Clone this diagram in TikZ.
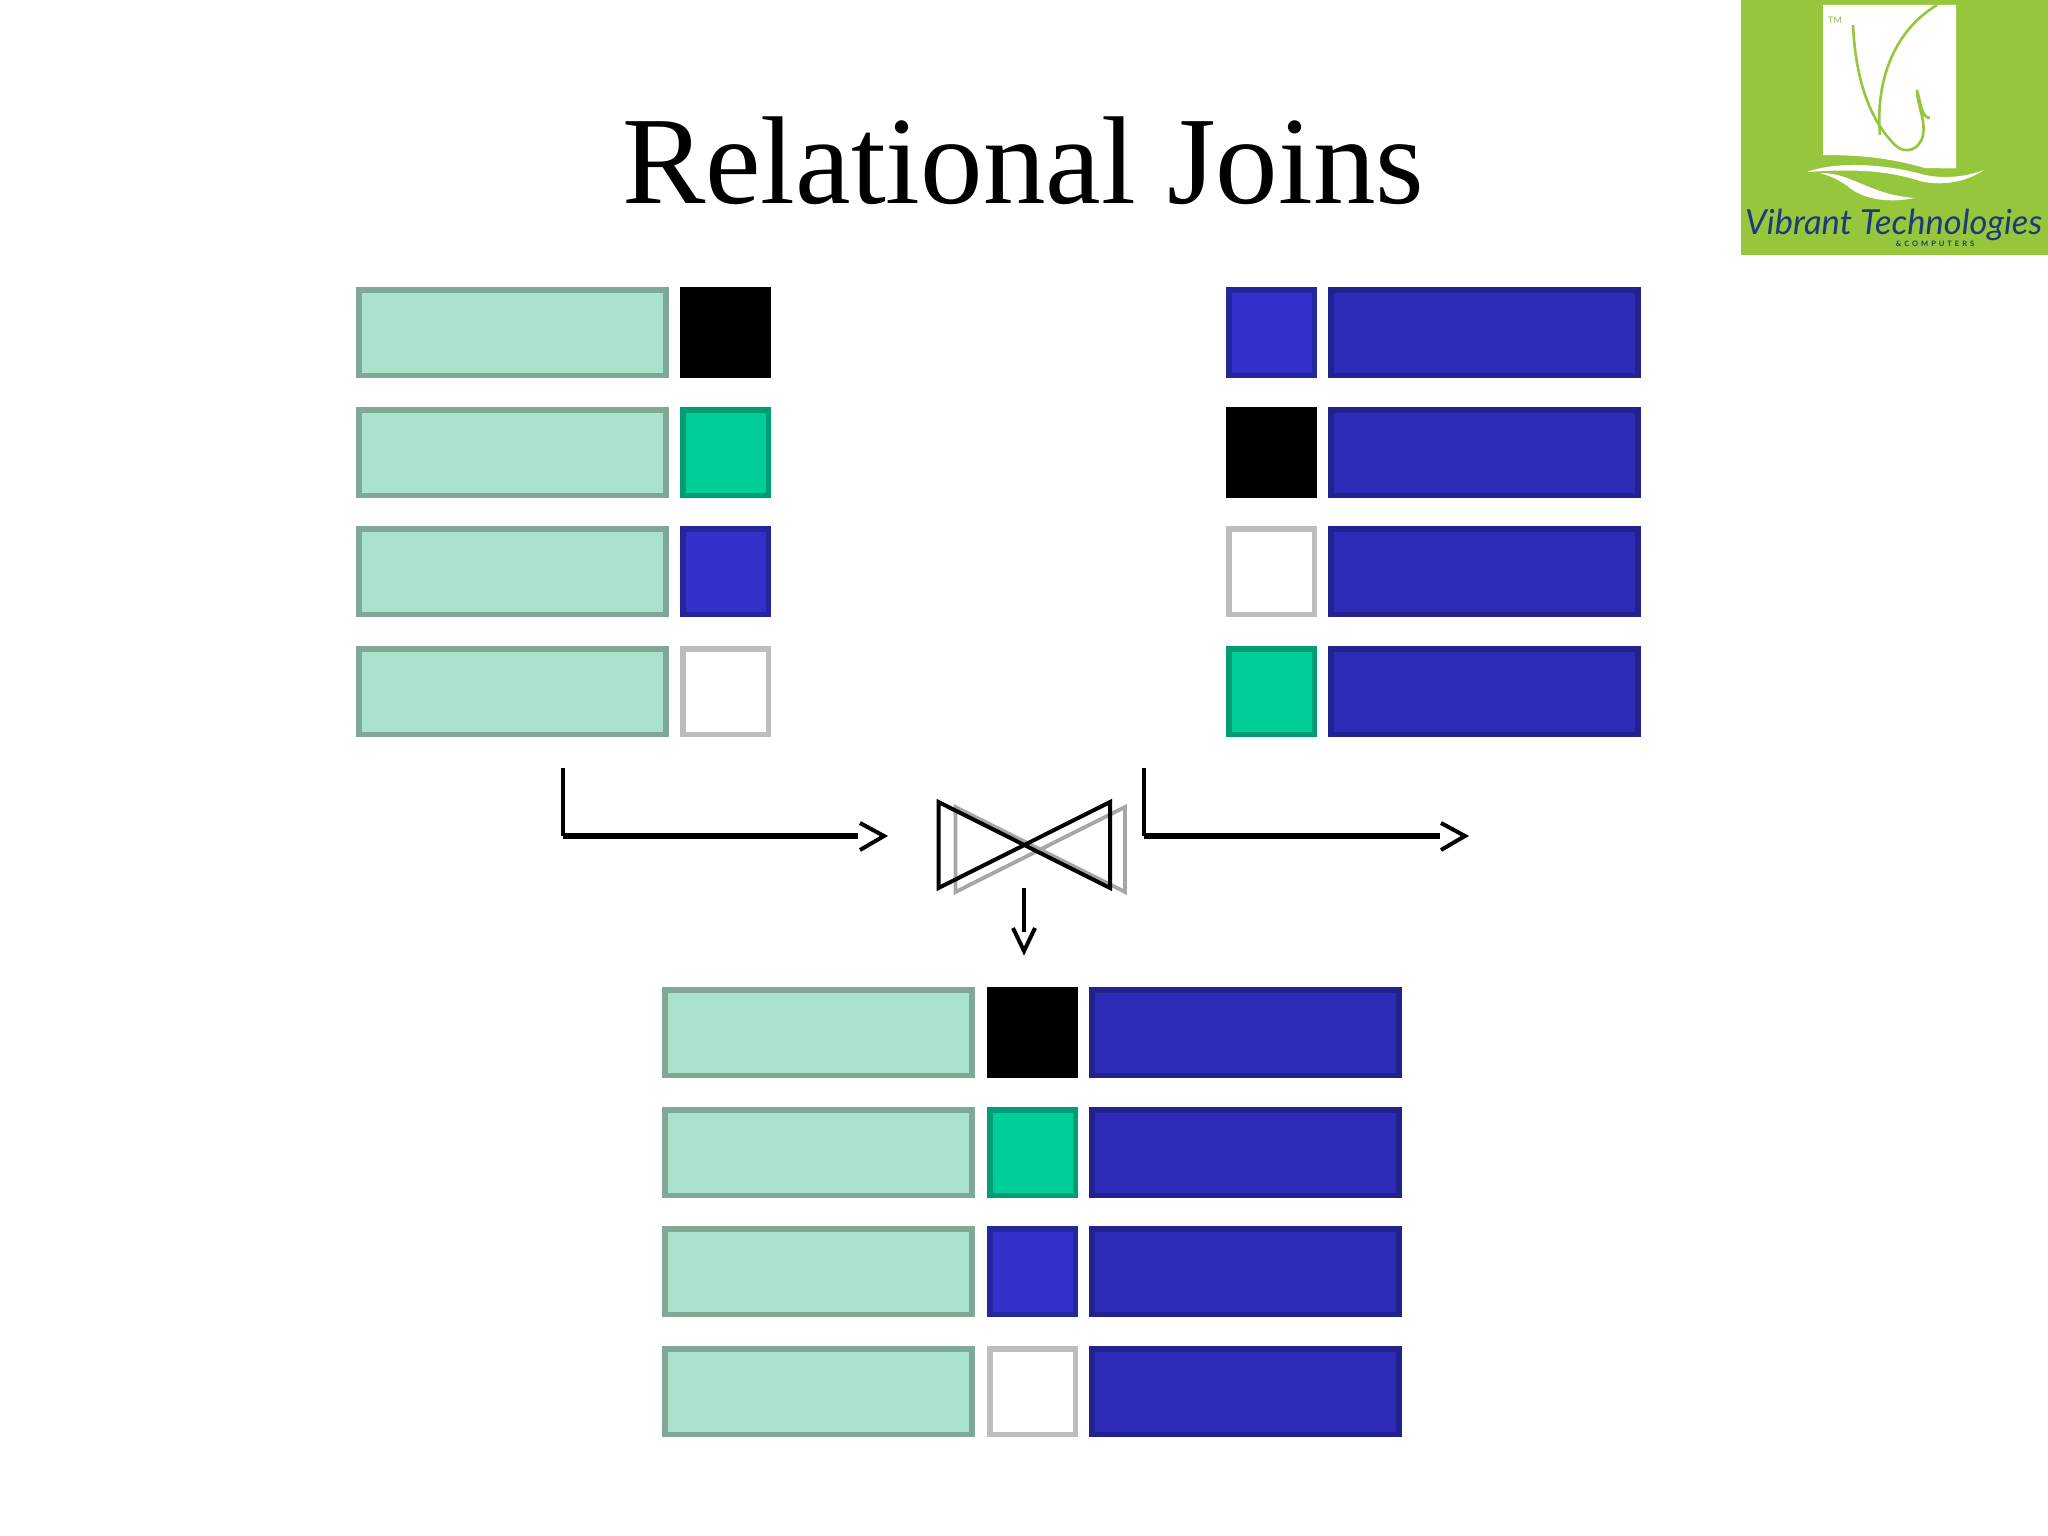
\documentclass[tikz,border=0pt]{standalone}
\usepackage{fontspec}
\setmainfont{Liberation Serif}
\newfontfamily\logofont{Lato}
\definecolor{mintfill}{HTML}{ABE2CB}
\definecolor{mintline}{HTML}{7FA896}
\definecolor{greenfill}{HTML}{00CE98}
\definecolor{greenline}{HTML}{009C73}
\definecolor{bluefill}{HTML}{3530CA}
\definecolor{blueline}{HTML}{25259C}
\definecolor{navyfill}{HTML}{2D2BB8}
\definecolor{navyline}{HTML}{22228E}
\definecolor{greyline}{HTML}{BDBDBD}
\definecolor{joingrey}{HTML}{A6A6A6}
\definecolor{logogreen}{HTML}{96C63C}
\definecolor{logoblue}{HTML}{1F3A78}
\tikzset{x=1pt,y=-1pt,
 cellbox/.style={line width=5.5pt,minimum height=85.5pt,inner sep=0pt,outer sep=0pt,anchor=north west},
 wide/.style={cellbox,minimum width=307pt},
 small/.style={cellbox,minimum width=85.5pt},
 mint/.style={wide,fill=mintfill,draw=mintline},
 navy/.style={wide,fill=navyfill,draw=navyline},
 kblack/.style={small,fill=black,draw=black},
 kgreen/.style={small,fill=greenfill,draw=greenline},
 kblue/.style={small,fill=bluefill,draw=blueline},
 kwhite/.style={small,fill=white,draw=greyline},
 conn/.style={line width=4.5pt,black},
 connthick/.style={line width=6.5pt,black},
 tip/.style={line width=4pt,black,miter limit=10},
 logocurve/.style={logogreen,line width=2.6pt}
}
\begin{document}
\begin{tikzpicture}
\useasboundingbox (0,0) rectangle (2048,1536);
\fill[white] (0,0) rectangle (2048,1536);
% title
\node[font=\fontsize{125}{125}\selectfont,anchor=base,inner sep=0pt] (title) at (1023,203) {Relational Joins};
% left table
\foreach \n/\y/\k in {1/289.75/kblack,2/409.75/kgreen,3/528.75/kblue,4/648.75/kwhite}{
 \node[mint] (l\n) at (358.75,\y) {};
 \node[\k] (lk\n) at (682.75,\y) {};
}
% right table
\foreach \n/\y/\k in {1/289.75/kblue,2/409.75/kblack,3/528.75/kwhite,4/648.75/kgreen}{
 \node[\k] (rk\n) at (1228.75,\y) {};
 \node[navy] (r\n) at (1330.75,\y) {};
}
% result table
\foreach \n/\y/\k in {1/989.75/kblack,2/1109.75/kgreen,3/1228.75/kblue,4/1348.75/kwhite}{
 \node[mint] (b\n) at (665,\y) {};
 \node[\k] (bk\n) at (989.75,\y) {};
 \node[navy] (bn\n) at (1092,\y) {};
}
% connectors
\coordinate (a0) at (563,768); \coordinate (a1) at (563,836); \coordinate (a2) at (858,836);
\coordinate (a3) at (884,836);
\coordinate (c0) at (1144,768); \coordinate (c1) at (1144,836); \coordinate (c2) at (1440,836);
\coordinate (c3) at (1465,836);
\coordinate (d0) at (1024,888); \coordinate (d1) at (1024,932); \coordinate (d2) at (1024,951);
\draw[conn] (a0) -- (a1);
\draw[connthick] (a1) -- (a2);
\draw[tip] (860,823) -- (a3) -- (860,850);
\draw[conn] (c0) -- (c1);
\draw[connthick] (c1) -- (c2);
\draw[tip] (1441,823) -- (c3) -- (1441,850);
\draw[conn] (d0) -- (d1);
\draw[tip] (1013,928) -- (d2) -- (1035,928);
% join symbol
\draw[line width=3.8pt,color=joingrey] (955.5,807) -- (1125,892) -- (1125,807) -- (955.5,892) -- cycle;
\draw[line width=4pt,black] (938.5,802) -- (1110,888) -- (1110,802) -- (938.5,888) -- cycle;
% logo
\fill[logogreen] (1741,0) rectangle (2048,255);
\fill[white] (1823,5) -- (1956,5) -- (1956,168.5) -- (1925,168) .. controls (1890,158) and (1860,155) .. (1823,155) -- cycle;
\draw[logocurve] (1853,25) .. controls (1856,90) and (1875,125) .. (1895,145) .. controls (1905,155) and (1920,150) .. (1923,135) .. controls (1926,120) and (1917,105) .. (1917,90) .. controls (1921,105) and (1922,118) .. (1930,118);
\draw[logocurve] (1937,5) .. controls (1895,30) and (1875,80) .. (1880,135);
\node[font=\logofont\fontsize{9}{9}\selectfont,text=logogreen!80!gray,inner sep=0pt] (tm) at (1835,20) {TM};
\fill[white] (1807,172) .. controls (1840,160) and (1890,165) .. (1925,175) .. controls (1945,179) and (1965,177) .. (1984,170) .. controls (1965,183) and (1940,186) .. (1920,181) .. controls (1880,168) and (1840,170) .. (1807,172) -- cycle;
\fill[white] (1820,173) .. controls (1850,172) and (1870,195) .. (1915,198) .. controls (1890,203) and (1865,200) .. (1850,188) .. controls (1840,180) and (1830,176) .. (1820,173) -- cycle;
\node[font=\logofont\itshape\fontsize{34.5}{35}\selectfont,text=logoblue,anchor=base west,inner sep=0pt] (brand) at (1745,234) {Vibrant Technologies};
\node[font=\logofont\bfseries\fontsize{7.5}{8}\selectfont,text=logoblue,inner sep=0pt] (sub) at (1935,244) {\addfontfeature{LetterSpace=40}\&COMPUTERS};
\end{tikzpicture}
\end{document}
